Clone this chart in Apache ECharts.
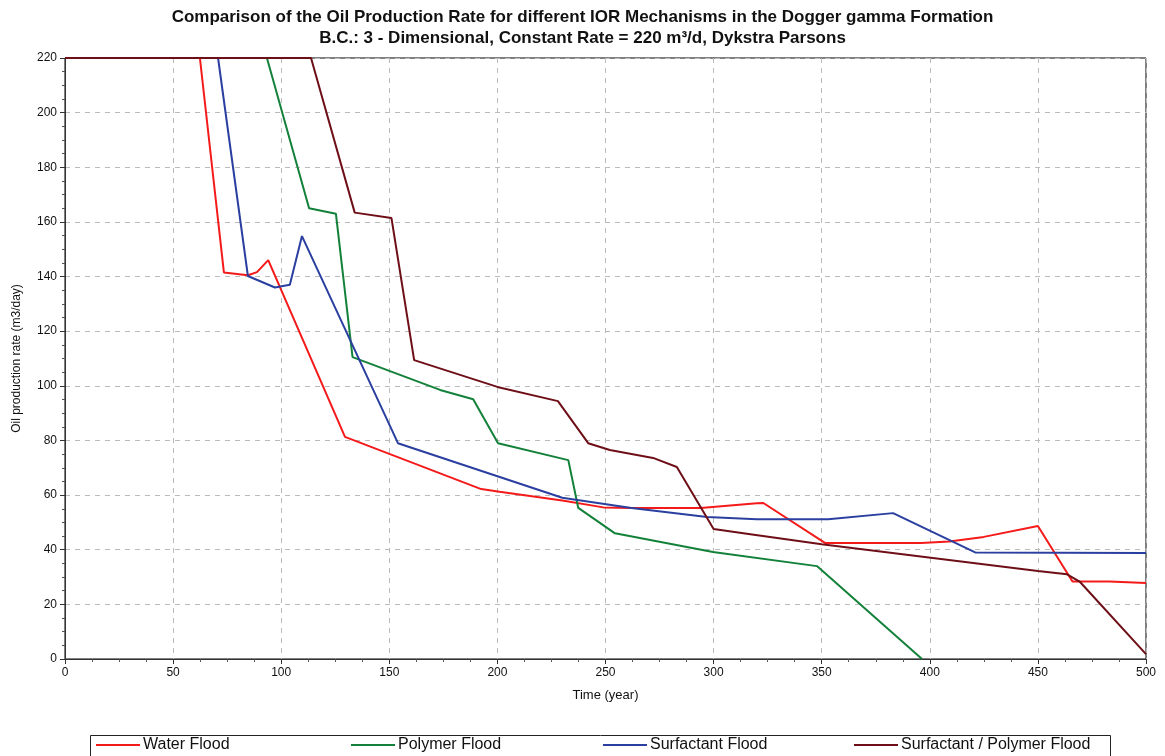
<!DOCTYPE html>
<html>
<head>
<meta charset="utf-8">
<script src="https://cdn.jsdelivr.net/npm/echarts@6/dist/echarts.min.js"></script>
<style>
html, body { margin: 0; padding: 0; background: #fff; }
#chart { width: 1165px; height: 756px; }
</style>
</head>
<body>
<div id="chart"></div>
<script>
// values
var water_t = [0, 62.4, 73.5, 84.6, 88.8, 94, 129.5, 192.5, 201, 230, 249, 262, 294, 320, 323, 351.5, 396, 409, 425, 450, 466, 483, 500]
var water_q = [220, 220, 141.5, 140.5, 141.6, 146, 81.3, 62.2, 61.2, 58, 55.5, 55.3, 55.3, 57, 57.1, 42.5, 42.5, 43, 44.7, 48.7, 28.4, 28.4, 27.8]

var polymer_t = [0, 93.4, 112.9, 125.3, 133, 173.5, 188.8, 200.3, 232.8, 237.4, 254.4, 299.7, 347.8, 396.4]
var polymer_q = [220, 220, 165, 163, 110.5, 98.5, 95.1, 79, 72.8, 55.3, 46, 39.2, 34, 0]

var surfactant_t = [0, 70.8, 84.6, 97.1, 104, 109.6, 154, 230, 262, 297, 320, 353, 383, 421, 500]
var surfactant_q = [220, 220, 140.2, 136, 137, 154.8, 79, 59, 55.3, 52, 51.2, 51.2, 53.4, 39, 38.8]

var surfpoly_t = [0, 113.8, 134, 151, 161.5, 200, 228, 242, 252, 272, 283, 300, 317, 350, 450, 463.5, 469.5, 500]
var surfpoly_q = [220, 220, 163.4, 161.4, 109.4, 99.6, 94.4, 79, 76.5, 73.6, 70.3, 47.6, 45.7, 42, 32.2, 31, 28.2, 1.8]

var series_names = ['Water Flood', 'Polymer Flood', 'Surfactant Flood', 'Surfactant / Polymer Flood']
var series_colors = ['#f41a1a', '#13813a', '#2a3f9f', '#6e0f18']

function pairs(t, q)
{
    var out = []
    for (var i = 0; i < t.length; i++) {
        out.push([t[i], q[i]])
    }
    return out
}

var all_data = [
    pairs(water_t, water_q),
    pairs(polymer_t, polymer_q),
    pairs(surfactant_t, surfactant_q),
    pairs(surfpoly_t, surfpoly_q)
]

var series = []
var legends = []
var legend_left = [96, 351, 603, 854]
for (var i = 0; i < series_names.length; i++) {
    series.push({
        name: series_names[i],
        type: 'line',
        data: all_data[i],
        symbol: 'none',
        color: series_colors[i],
        lineStyle: { width: 2, color: series_colors[i] },
        animation: false
    })
    legends.push({
        data: [series_names[i]],
        left: legend_left[i],
        bottom: 3,
        icon: 'rect',
        itemWidth: 44,
        itemHeight: 2,
        padding: 0,
        selectedMode: false,
        textStyle: {
            fontFamily: 'Liberation Sans',
            fontSize: 16,
            color: '#111',
            padding: [0, 0, 0, -2]
        }
    })
}

var chart = echarts.init(document.getElementById('chart'))
var option = {
    backgroundColor: '#fff',
    title: {
        text: 'Comparison of the Oil Production Rate for different IOR Mechanisms in the Dogger gamma Formation\nB.C.: 3 - Dimensional, Constant Rate = 220 m³/d, Dykstra Parsons',
        left: 'center',
        top: 2,
        textStyle: {
            fontFamily: 'Liberation Sans',
            fontWeight: 'bold',
            fontSize: 17,
            lineHeight: 21,
            color: '#111'
        }
    },
    legend: legends,
    graphic: [{
        type: 'rect',
        left: 88,
        top: 733,
        shape: { width: 1020, height: 22 },
        style: { fill: 'none', stroke: '#222', lineWidth: 1 },
        silent: true
    }],
    grid: {
        left: 65,
        right: 19,
        top: 58,
        bottom: 97,
        show: true,
        borderColor: '#000',
        borderWidth: 1
    },
    xAxis: {
        type: 'value',
        min: 0,
        max: 500,
        interval: 50,
        name: 'Time (year)',
        nameLocation: 'middle',
        nameGap: 30,
        nameTextStyle: { fontFamily: 'Liberation Sans', fontSize: 13, color: '#111' },
        axisLine: { lineStyle: { color: '#333' } },
        axisTick: { show: true, length: 5, lineStyle: { color: '#333' } },
        minorTick: { show: true, splitNumber: 4, length: 3, lineStyle: { color: '#555' } },
        axisLabel: { fontFamily: 'Liberation Sans', fontSize: 12, color: '#111', margin: 8 },
        splitLine: { show: true, lineStyle: { color: '#bbb', type: [5, 5] } }
    },
    yAxis: {
        type: 'value',
        min: 0,
        max: 220,
        interval: 20,
        name: 'Oil production rate (m3/day)',
        nameLocation: 'middle',
        nameGap: 42,
        nameTextStyle: { fontFamily: 'Liberation Sans', fontSize: 12, color: '#111' },
        axisLine: { show: true, lineStyle: { color: '#333' } },
        axisTick: { show: true, length: 5, lineStyle: { color: '#333' } },
        minorTick: { show: true, splitNumber: 4, length: 3, lineStyle: { color: '#555' } },
        axisLabel: { fontFamily: 'Liberation Sans', fontSize: 12, color: '#111', margin: 8 },
        splitLine: { show: true, lineStyle: { color: '#bbb', type: [5, 5] } }
    },
    series: series
}
chart.setOption(option)
</script>
</body>
</html>
